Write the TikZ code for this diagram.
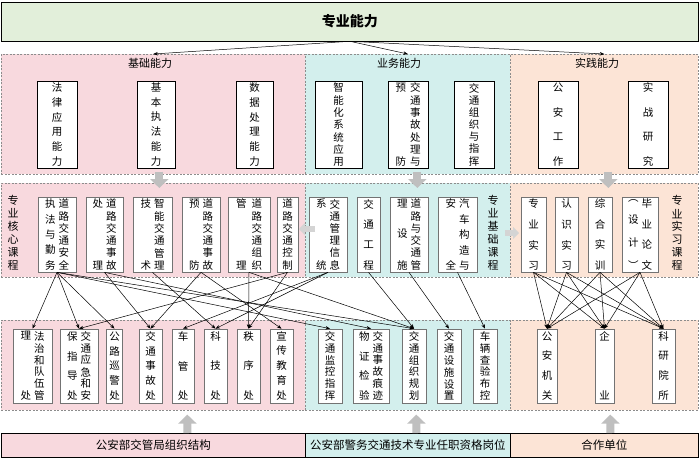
\documentclass[tikz,border=0pt]{standalone}
\usepackage{fontspec}
\setmainfont{Noto Sans CJK SC}
\usetikzlibrary{arrows.meta,calc}

\definecolor{topgreen}{RGB}{226,239,218}
\definecolor{bandpink}{RGB}{248,217,222}
\definecolor{bandcyan}{RGB}{211,239,237}
\definecolor{bandpeach}{RGB}{252,228,214}
\definecolor{blockgray}{RGB}{191,191,191}
\definecolor{sidegray}{RGB}{212,212,212}

% one column of characters, spread over the given height
\newcommand{\vcol}[2]{\vbox to #1{\offinterlineskip\foreach[count=\i] \zi in {#2}{\ifnum\i>1 \vfill\fi\hbox{\zi}}}}

\begin{document}
\begin{tikzpicture}[x=1pt,y=-1pt,
    band/.style={draw=black!45, dash pattern=on 2pt off 1.5pt, line width=0.6pt, anchor=north west, inner sep=0pt},
    bandtitle/.style={font=\fontsize{11}{13}\selectfont},
    ability/.style={draw=black, line width=0.7pt, fill=white, inner sep=0pt, minimum height=87pt, font=\fontsize{10.5}{12}\selectfont},
    course/.style={draw=black!55, line width=0.7pt, fill=white, inner sep=0pt, minimum height=75pt, font=\fontsize{10.5}{12}\selectfont},
    post/.style={draw=black!55, line width=0.7pt, fill=white, inner sep=0pt, minimum height=74pt, font=\fontsize{10.5}{12}\selectfont},
    vlabel/.style={inner sep=0pt, font=\fontsize{11}{12}\selectfont},
    base/.style={draw=black, line width=0.8pt, anchor=north west, inner sep=0pt, minimum height=24pt, font=\fontsize{11.5}{13}\selectfont},
    link/.style={-{Stealth[length=4.5pt,width=3.5pt]}, line width=0.5pt},
    blockarrow/.style={draw=blockgray, line width=8pt, -{Triangle[length=9pt,width=18pt]}},
    sidearrow/.style={draw=sidegray, line width=6pt, -{Triangle[length=6pt,width=12pt]}}
]
\useasboundingbox (0,0) rectangle (700,458);
\fill[white] (0,0) rectangle (700,458);

% top
\node[draw=black, line width=0.8pt, fill=topgreen, minimum width=697pt, minimum height=39pt, anchor=north west, inner sep=0pt, font=\bfseries\fontsize{14}{16}\selectfont] (title) at (1,1.5) {专业能力};

% bands
\node[band, fill=bandpink, minimum width=304pt, minimum height=120pt] (jichu) at (1,54) {};
\node[band, fill=bandcyan, minimum width=205pt, minimum height=120pt] (yewu) at (305,54) {};
\node[band, fill=bandpeach, minimum width=188pt, minimum height=120pt] (shijian) at (510,54) {};
\node[band, fill=bandpink, minimum width=304pt, minimum height=94pt] (hexin) at (1,183) {};
\node[band, fill=bandcyan, minimum width=205pt, minimum height=94pt] (zhuanji) at (305,183) {};
\node[band, fill=bandpeach, minimum width=188pt, minimum height=94pt] (shixike) at (510,183) {};
\node[band, fill=bandpink, minimum width=304pt, minimum height=90pt] (jgj) at (1,320) {};
\node[band, fill=bandcyan, minimum width=205pt, minimum height=90pt] (gangwei) at (305,320) {};
\node[band, fill=bandpeach, minimum width=188pt, minimum height=90pt] (hezuo) at (510,320) {};

\node[bandtitle] (jichuT) at (150,63) {基础能力};
\node[bandtitle] (yewuT) at (399,63) {业务能力};
\node[bandtitle] (shijianT) at (597,63) {实践能力};

% abilities
\node[ability, minimum width=40pt] (falv) at (57,124.5) {\vcol{82pt}{法,律,应,用,能,力}};
\node[ability, minimum width=38pt] (zhifa) at (156,124.5) {\vcol{82pt}{基,本,执,法,能,力}};
\node[ability, minimum width=37pt] (shuju) at (254.5,124.5) {\vcol{82pt}{数,据,处,理,能,力}};
\node[ability, minimum width=47pt] (zhineng) at (338.5,124.5) {\vcol{82pt}{智,能,化,系,统,应,用}};
\node[ability, minimum width=40pt] (shigu) at (408,124.5) {\vcol{82pt}{预,防}\kern4pt\vcol{82pt}{交,通,事,故,处,理,与}};
\node[ability, minimum width=40pt] (zuzhizh) at (474,124.5) {\vcol{82pt}{交,通,组,织,与,指,挥}};
\node[ability, minimum width=40pt] (gongan) at (558,124.5) {\vcol{82pt}{公,安,工,作}};
\node[ability, minimum width=40pt] (shizhan) at (648,124.5) {\vcol{82pt}{实,战,研,究}};

% courses
\node[vlabel] (hexinT) at (13,233) {\vcol{74pt}{专,业,核,心,课,程}};
\node[course, minimum width=38pt] (anquan) at (57,234.5) {\vcol{70pt}{执,法,与,勤,务}\kern3pt\vcol{70pt}{道,路,交,通,安,全}};
\node[course, minimum width=37pt] (chuli) at (104.5,234.5) {\vcol{70pt}{处,理}\kern3pt\vcol{70pt}{道,路,交,通,事,故}};
\node[course, minimum width=39pt] (zhjs) at (152.5,234.5) {\vcol{70pt}{技,术}\kern3pt\vcol{70pt}{智,能,交,通,管,理}};
\node[course, minimum width=38pt] (yufang) at (201,234.5) {\vcol{70pt}{预,防}\kern3pt\vcol{70pt}{道,路,交,通,事,故}};
\node[course, minimum width=42pt] (zzgl) at (249,234.5) {\vcol{70pt}{管,理}\kern5pt\vcol{70pt}{道,路,交,通,组,织}};
\node[course, minimum width=21pt] (kongzhi) at (287.5,234.5) {\vcol{70pt}{道,路,交,通,控,制}};
\node[course, minimum width=38pt] (xinxi) at (328,234.5) {\vcol{70pt}{系,统}\kern3pt\vcol{70pt}{交,通,管,理,信,息}};
\node[course, minimum width=23pt] (gongcheng) at (368.5,234.5) {\vcol{70pt}{交,通,工,程}};
\node[course, minimum width=38pt] (sheshi) at (409,234.5) {\vcol{70pt}{理,设,施}\kern3pt\vcol{70pt}{道,路,与,交,通,管}};
\node[course, minimum width=39pt] (qiche) at (457.5,234.5) {\vcol{70pt}{安,全}\kern3pt\vcol{70pt}{汽,车,构,造,与}};
\node[vlabel] (zhuanjiT) at (493,233) {\vcol{74pt}{专,业,基,础,课,程}};
\node[course, minimum width=25pt] (zysx) at (533.5,234.5) {\vcol{70pt}{专,业,实,习}};
\node[course, minimum width=23pt] (rssx) at (566.5,234.5) {\vcol{70pt}{认,识,实,习}};
\node[course, minimum width=24pt] (zhsx) at (600,234.5) {\vcol{70pt}{综,合,实,训}};
\node[course, minimum width=36pt] (biye) at (640,234.5) {\vcol{70pt}{︵,设,计,︶}\kern3pt\vcol{70pt}{毕,业,论,文}};
\node[vlabel] (shixiT) at (677,233) {\vcol{74pt}{专,业,实,习,课,程}};

% posts
\node[post, minimum width=39pt] (duiwu) at (32.5,366) {\vcol{68pt}{理,处}\kern3pt\vcol{68pt}{法,治,和,队,伍,管}};
\node[post, minimum width=38pt] (yingji) at (79,366) {\vcol{68pt}{保,指,导,处}\kern3pt\vcol{68pt}{交,通,应,急,和,安}};
\node[post, minimum width=16pt] (xunjing) at (114.5,366) {\vcol{68pt}{公,路,巡,警,处}};
\node[post, minimum width=23pt] (shiguchu) at (150.5,366) {\vcol{68pt}{交,通,事,故,处}};
\node[post, minimum width=22pt] (cheguan) at (183,366) {\vcol{68pt}{车,管,处}};
\node[post, minimum width=23pt] (keji) at (215.5,366) {\vcol{68pt}{科,技,处}};
\node[post, minimum width=23pt] (zhixu) at (248.5,366) {\vcol{68pt}{秩,序,处}};
\node[post, minimum width=23pt] (xuanchuan) at (281.5,366) {\vcol{68pt}{宣,传,教,育,处}};
\node[post, minimum width=24pt] (jiankong) at (330,366) {\vcol{68pt}{交,通,监,控,指,挥}};
\node[post, minimum width=36pt] (wuzheng) at (371,366) {\vcol{68pt}{物,证,检,验}\kern3pt\vcol{68pt}{交,通,事,故,痕,迹}};
\node[post, minimum width=24pt] (guihua) at (414,366) {\vcol{68pt}{交,通,组,织,规,划}};
\node[post, minimum width=24pt] (shezhi) at (449,366) {\vcol{68pt}{交,通,设,施,设,置}};
\node[post, minimum width=24pt] (chayan) at (485,366) {\vcol{68pt}{车,辆,查,验,布,控}};
\node[post, minimum width=20pt] (gajg) at (547,366) {\vcol{68pt}{公,安,机,关}};
\node[post, minimum width=19pt] (qiye) at (604.5,366) {\vcol{68pt}{企,业}};
\node[post, minimum width=23pt] (kyys) at (663.5,366) {\vcol{68pt}{科,研,院,所}};

% bottom
\node[base, fill=bandpink, minimum width=304pt] (jgjbase) at (1,433) {公安部交管局组织结构};
\node[base, fill=bandcyan, minimum width=205pt] (gangweibase) at (305,433) {公安部警务交通技术专业任职资格岗位};
\node[base, fill=bandpeach, minimum width=188pt] (hezuobase) at (510,433) {合作单位};

% arrows
\foreach \b in {jichu,yewu,shijian}
    \draw[link] (title.south) -- (\b.north);

\draw[blockarrow] ([xshift=6pt,yshift=3pt]jichu.south) -- ([xshift=6pt,yshift=-5pt]hexin.north);
\draw[blockarrow] ([xshift=9.5pt,yshift=3pt]yewu.south) -- ([xshift=9.5pt,yshift=-5pt]zhuanji.north);
\draw[blockarrow] ([xshift=4pt,yshift=3pt]shijian.south) -- ([xshift=4pt,yshift=-5pt]shixike.north);
\draw[sidearrow] ([xshift=10pt,yshift=-46pt]zhuanji.north west) -- ([xshift=-6pt,yshift=-46pt]zhuanji.north west);
\draw[sidearrow] ([xshift=-5pt,yshift=-50pt]shixike.north west) -- ([xshift=9pt,yshift=-50pt]shixike.north west);

\foreach \s/\t in {anquan/duiwu, anquan/yingji, anquan/xunjing, anquan/jiankong, anquan/guihua,
    chuli/shiguchu, chuli/wuzheng, zhjs/keji, yufang/shiguchu, yufang/xuanchuan,
    zzgl/zhixu, zzgl/guihua, kongzhi/yingji, kongzhi/zhixu, xinxi/cheguan, xinxi/keji,
    gongcheng/guihua, sheshi/shezhi, qiche/chayan}
    \draw[link] (\s.south) -- (\t.north);
\foreach \s in {zysx,rssx,zhsx,biye}
    \foreach \t in {gajg,qiye,kyys}
        \draw[link] (\s.south) -- (\t.north);

\draw[blockarrow] ([xshift=34pt]jgjbase.north) -- ([xshift=34pt,yshift=-4pt]jgj.south);
\draw[blockarrow] ([xshift=8.5pt]gangweibase.north) -- ([xshift=8.5pt,yshift=-4pt]gangwei.south);
\draw[blockarrow] ([xshift=6pt]hezuobase.north) -- ([xshift=6pt,yshift=-4pt]hezuo.south);
\end{tikzpicture}
\end{document}
